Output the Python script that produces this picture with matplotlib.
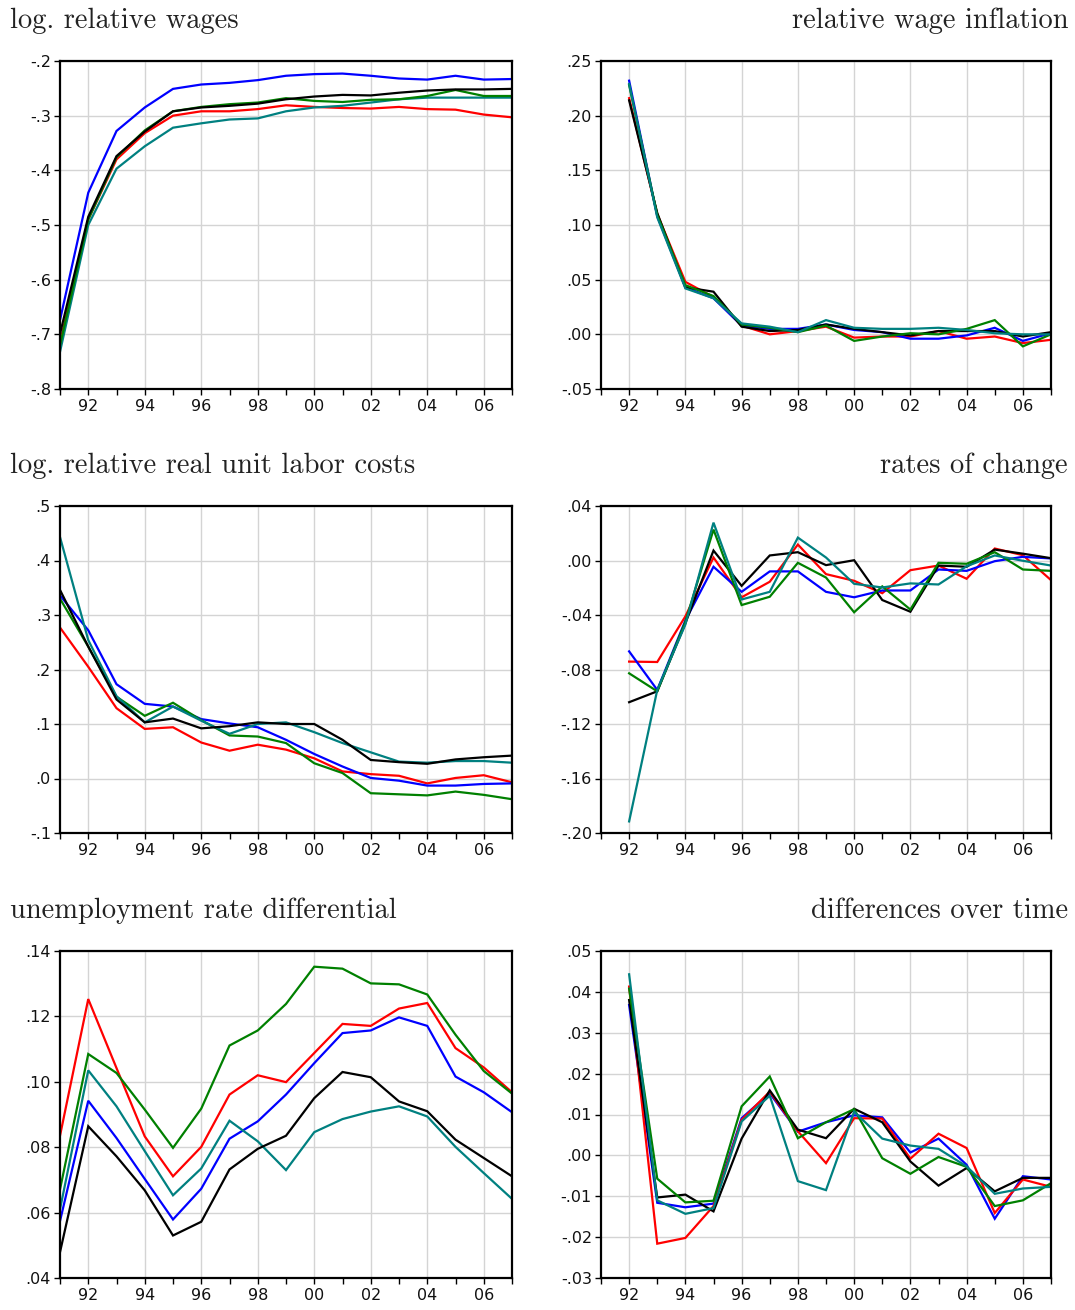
import matplotlib
matplotlib.use("Agg")
import matplotlib.pyplot as plt
from matplotlib.ticker import FixedLocator, FuncFormatter

years = list(range(1991, 2008))
years_d = list(range(1992, 2008))

# Panel 1: log. relative wages
wage_blue = [-0.674, -0.441, -0.328, -0.285, -0.251, -0.243, -0.240, -0.235, -0.227, -0.224, -0.223, -0.227, -0.232, -0.234, -0.227, -0.234, -0.233]
wage_black = [-0.699, -0.485, -0.374, -0.329, -0.292, -0.285, -0.282, -0.278, -0.270, -0.265, -0.262, -0.263, -0.258, -0.254, -0.252, -0.252, -0.251]
wage_green = [-0.720, -0.490, -0.376, -0.327, -0.292, -0.284, -0.279, -0.276, -0.268, -0.273, -0.275, -0.271, -0.270, -0.264, -0.253, -0.264, -0.264]
wage_red = [-0.715, -0.490, -0.380, -0.332, -0.300, -0.292, -0.292, -0.288, -0.281, -0.284, -0.286, -0.287, -0.284, -0.288, -0.289, -0.298, -0.303]
wage_teal = [-0.732, -0.500, -0.397, -0.356, -0.322, -0.314, -0.307, -0.305, -0.292, -0.285, -0.282, -0.276, -0.270, -0.267, -0.267, -0.267, -0.267]

# Panel 2: relative wage inflation
infl_blue = [0.232, 0.108, 0.043, 0.033, 0.008, 0.005, 0.005, 0.009, 0.004, 0.002, -0.004, -0.004, -0.001, 0.006, -0.006, 0.001]
infl_black = [0.214, 0.111, 0.043, 0.039, 0.007, 0.003, 0.004, 0.009, 0.005, 0.002, -0.001, 0.003, 0.003, 0.003, -0.002, 0.002]
infl_green = [0.228, 0.109, 0.045, 0.035, 0.009, 0.006, 0.002, 0.008, -0.006, -0.002, 0.001, 0.000, 0.005, 0.013, -0.011, 0.000]
infl_red = [0.216, 0.110, 0.048, 0.034, 0.008, 0.000, 0.003, 0.007, -0.003, -0.002, -0.002, 0.003, -0.004, -0.002, -0.008, -0.005]
infl_teal = [0.229, 0.107, 0.042, 0.033, 0.010, 0.007, 0.002, 0.013, 0.006, 0.005, 0.005, 0.006, 0.004, 0.001, 0.000, 0.000]

# Panel 3: log. relative real unit labor costs
ulc_blue = [0.336, 0.272, 0.173, 0.137, 0.132, 0.109, 0.101, 0.094, 0.071, 0.045, 0.022, 0.001, -0.004, -0.013, -0.013, -0.010, -0.009]
ulc_black = [0.346, 0.242, 0.145, 0.103, 0.110, 0.092, 0.096, 0.103, 0.100, 0.100, 0.071, 0.034, 0.030, 0.027, 0.035, 0.039, 0.042]
ulc_green = [0.330, 0.242, 0.150, 0.115, 0.139, 0.107, 0.079, 0.077, 0.065, 0.028, 0.010, -0.027, -0.029, -0.031, -0.024, -0.030, -0.038]
ulc_red = [0.277, 0.205, 0.129, 0.091, 0.094, 0.066, 0.051, 0.062, 0.053, 0.037, 0.013, 0.008, 0.005, -0.009, 0.001, 0.006, -0.007]
ulc_teal = [0.443, 0.254, 0.151, 0.103, 0.132, 0.106, 0.082, 0.100, 0.103, 0.085, 0.065, 0.048, 0.031, 0.029, 0.032, 0.032, 0.029]

# Panel 4: rates of change
roc_blue = [-0.0667, -0.095, -0.044, -0.0046, -0.023, -0.008, -0.008, -0.023, -0.027, -0.022, -0.022, -0.0066, -0.0076, -0.0005, 0.0027, 0.0015]
roc_black = [-0.104, -0.096, -0.046, 0.0073, -0.0186, 0.0037, 0.0061, -0.0034, 0.0002, -0.029, -0.0376, -0.0037, -0.0046, 0.008, 0.005, 0.0017]
roc_green = [-0.0828, -0.096, -0.045, 0.0227, -0.0327, -0.0266, -0.0017, -0.0125, -0.038, -0.019, -0.036, -0.0017, -0.0024, 0.0061, -0.0066, -0.0076]
roc_red = [-0.0742, -0.0745, -0.041, 0.0022, -0.027, -0.0156, 0.0117, -0.010, -0.0149, -0.024, -0.0071, -0.0037, -0.0134, 0.0088, 0.0039, -0.0144]
roc_teal = [-0.1915, -0.095, -0.047, 0.0278, -0.0286, -0.023, 0.0168, 0.0022, -0.0171, -0.0198, -0.0168, -0.0176, -0.0042, 0.0037, -0.0002, -0.0037]

# Panel 5: unemployment rate differential
ur_red = [0.0835, 0.1253, 0.1042, 0.0833, 0.0711, 0.0801, 0.0961, 0.1020, 0.0999, 0.1088, 0.1177, 0.1171, 0.1224, 0.1241, 0.1103, 0.1044, 0.0968]
ur_green = [0.0671, 0.1085, 0.1027, 0.0915, 0.0798, 0.0918, 0.1111, 0.1157, 0.1238, 0.1352, 0.1346, 0.1301, 0.1298, 0.1267, 0.1144, 0.1033, 0.0964]
ur_blue = [0.0574, 0.0942, 0.0828, 0.0703, 0.0579, 0.0673, 0.0826, 0.0879, 0.0961, 0.1057, 0.1149, 0.1157, 0.1197, 0.1171, 0.1016, 0.0968, 0.0907]
ur_teal = [0.0610, 0.1035, 0.0925, 0.0788, 0.0653, 0.0735, 0.0881, 0.0818, 0.0730, 0.0846, 0.0886, 0.0909, 0.0925, 0.0894, 0.0801, 0.0721, 0.0642]
ur_black = [0.0479, 0.0864, 0.0772, 0.0668, 0.0530, 0.0572, 0.0732, 0.0795, 0.0835, 0.0950, 0.1030, 0.1014, 0.0940, 0.0910, 0.0823, 0.0767, 0.0711]

# Panel 6: differences over time
dt_blue = [0.0368, -0.0116, -0.0127, -0.0118, 0.0091, 0.0152, 0.0058, 0.0081, 0.0098, 0.0093, 0.0007, 0.0041, -0.0023, -0.0155, -0.0051, -0.0059]
dt_red = [0.0413, -0.0216, -0.0202, -0.0124, 0.0087, 0.0156, 0.0059, -0.0019, 0.0091, 0.0090, -0.0008, 0.0053, 0.0018, -0.0141, -0.0059, -0.0077]
dt_green = [0.0408, -0.0057, -0.0115, -0.0111, 0.0120, 0.0193, 0.0042, 0.0081, 0.0113, -0.0007, -0.0045, -0.0004, -0.0028, -0.0124, -0.0110, -0.0068]
dt_teal = [0.0443, -0.0110, -0.0143, -0.0129, 0.0083, 0.0146, -0.0063, -0.0085, 0.0107, 0.0041, 0.0024, 0.0016, -0.0027, -0.0094, -0.0081, -0.0077]
dt_black = [0.0380, -0.0103, -0.0096, -0.0137, 0.0041, 0.0159, 0.0063, 0.0042, 0.0114, 0.0081, -0.0015, -0.0074, -0.0031, -0.0088, -0.0055, -0.0055]

titles = ["log. relative wages", "relative wage inflation",
          "log. relative real unit labor costs", "rates of change",
          "unemployment rate differential", "differences over time"]

yticks = [
    [-0.8, -0.7, -0.6, -0.5, -0.4, -0.3, -0.2],
    [-0.05, 0.00, 0.05, 0.10, 0.15, 0.20, 0.25],
    [-0.1, 0.0, 0.1, 0.2, 0.3, 0.4, 0.5],
    [-0.20, -0.16, -0.12, -0.08, -0.04, 0.00, 0.04],
    [0.04, 0.06, 0.08, 0.10, 0.12, 0.14],
    [-0.03, -0.02, -0.01, 0.00, 0.01, 0.02, 0.03, 0.04, 0.05],
]
ydec = [1, 2, 1, 2, 2, 2]

xmajor = list(range(1992, 2007, 2))
xlabels = ["92", "94", "96", "98", "00", "02", "04", "06"]

C_BLUE, C_RED, C_GREEN, C_TEAL, C_BLACK = "#0000ff", "#ff0000", "#008000", "#008080", "#000000"

panels = [
    (years, [(wage_red, C_RED), (wage_teal, C_TEAL), (wage_green, C_GREEN), (wage_blue, C_BLUE), (wage_black, C_BLACK)]),
    (years_d, [(infl_red, C_RED), (infl_blue, C_BLUE), (infl_black, C_BLACK), (infl_green, C_GREEN), (infl_teal, C_TEAL)]),
    (years, [(ulc_red, C_RED), (ulc_blue, C_BLUE), (ulc_green, C_GREEN), (ulc_teal, C_TEAL), (ulc_black, C_BLACK)]),
    (years_d, [(roc_red, C_RED), (roc_blue, C_BLUE), (roc_black, C_BLACK), (roc_green, C_GREEN), (roc_teal, C_TEAL)]),
    (years, [(ur_red, C_RED), (ur_blue, C_BLUE), (ur_teal, C_TEAL), (ur_black, C_BLACK), (ur_green, C_GREEN)]),
    (years_d, [(dt_blue, C_BLUE), (dt_red, C_RED), (dt_black, C_BLACK), (dt_green, C_GREEN), (dt_teal, C_TEAL)]),
]

W, H = 1075, 1310
fig = plt.figure(figsize=(W / 100, H / 100), dpi=100)

col_px = [(60, 512), (601, 1051)]
row_px = [(61, 389), (506, 833), (951, 1278)]
title_y = [21, 466, 911]


def make_fmt(d):
    def f(v, pos):
        s = f"{v:.{d}f}"
        if s.startswith("-0"):
            s = "-" + s[2:]
        elif s.startswith("0"):
            s = s[1:]
        return s
    return f


for i, (xs, series) in enumerate(panels):
    r, c = divmod(i, 2)
    x0, x1 = col_px[c]
    y0, y1 = row_px[r]
    ax = fig.add_axes([x0 / W, 1 - y1 / H, (x1 - x0) / W, (y1 - y0) / H])
    for vals, col in series:
        ax.plot(xs, vals, color=col, lw=1.6, solid_joinstyle="miter", clip_on=True)
    ax.set_xlim(1991, 2007)
    ax.set_ylim(yticks[i][0], yticks[i][-1])
    ax.xaxis.set_major_locator(FixedLocator(xmajor))
    ax.xaxis.set_minor_locator(FixedLocator(list(range(1991, 2008, 2))))
    ax.set_xticklabels(xlabels)
    ax.yaxis.set_major_locator(FixedLocator(yticks[i]))
    ax.yaxis.set_major_formatter(FuncFormatter(make_fmt(ydec[i])))
    ax.grid(True, which="major", color="#d4d4d4", lw=1.0)
    ax.set_axisbelow(True)
    for sp in ax.spines.values():
        sp.set_linewidth(1.6)
        sp.set_color("black")
    ax.tick_params(axis="both", which="both", direction="out", length=4.5, width=1.0,
                   labelsize=11.5, top=False, right=False, colors="black")
    ax.tick_params(axis="x", pad=3)
    ax.tick_params(axis="y", pad=2)
    for lab in ax.get_xticklabels() + ax.get_yticklabels():
        lab.set_fontfamily("DejaVu Sans")
        lab.set_color("#111111")
    if c == 0:
        fig.text(10 / W, 1 - title_y[r] / H, titles[i], ha="left", va="center",
                 fontsize=20.5, family="cmr10", color="#222222")
    else:
        fig.text(1068 / W, 1 - title_y[r] / H, titles[i], ha="right", va="center",
                 fontsize=20.5, family="cmr10", color="#222222")

fig.savefig("out.png", dpi=100)
